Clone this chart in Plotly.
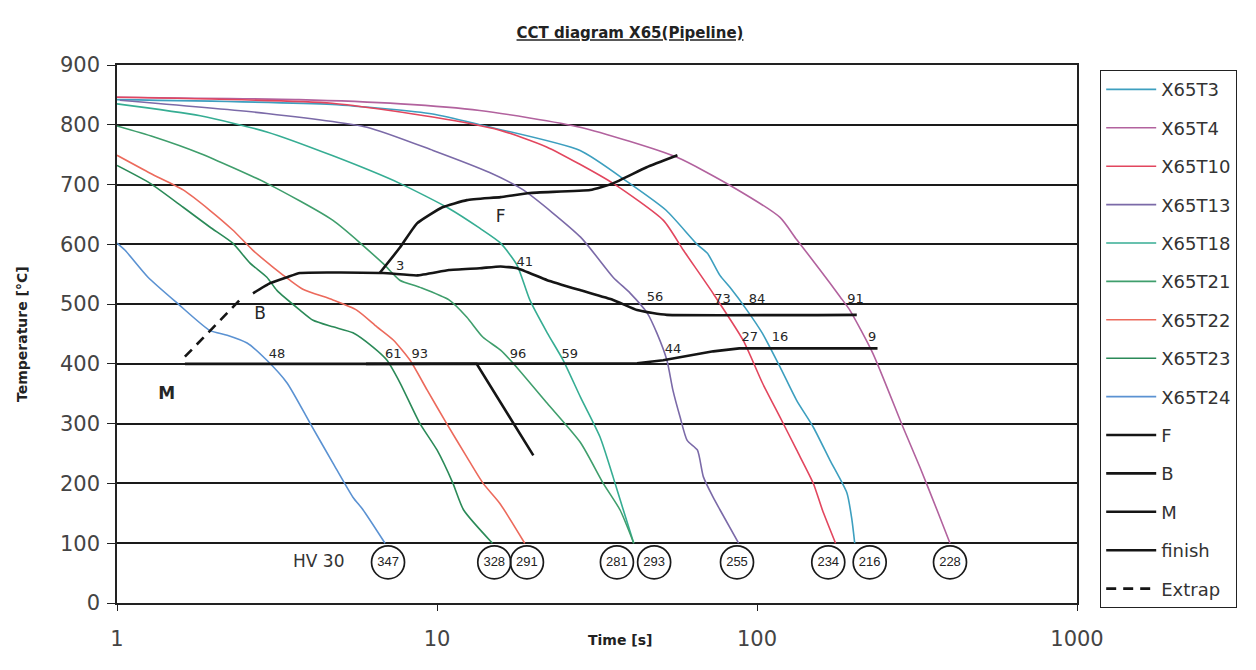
import plotly.graph_objects as go

# ---- cooling curves: time [s] and temperature [°C] ----
t_x65t3 = [1.0, 4.7, 9.7, 13.6, 28, 40, 52, 65, 70, 76.6, 82.3, 93, 104, 118, 133, 150, 169, 191, 198, 202]
T_x65t3 = [842, 834, 818, 800, 757, 702, 657, 600, 585, 548, 528, 490, 451, 395, 339, 294, 239, 184, 139, 100]

t_x65t4 = [1.0, 3.7, 7.7, 13.6, 28, 56, 84, 118, 133, 157, 182, 195, 230, 286, 323, 365, 401]
T_x65t4 = [846, 842, 835, 824, 796, 746, 696, 645, 608, 558, 512, 490, 418, 294, 227, 156, 100]

t_x65t10 = [1.0, 4.7, 9.7, 15.7, 22, 35.5, 51, 58.9, 72.9, 90.4, 104, 118, 133, 150, 160, 176]
T_x65t10 = [846, 836, 813, 791, 763, 702, 640, 590, 518, 440, 368, 311, 256, 200, 156, 100]

t_x65t13 = [1.02, 2.94, 6.04, 9.72, 14.6, 18.6, 28.1, 35.5, 40.2, 45.4, 48.7, 52.3, 54.6, 57.5, 60.5, 65.1, 68.0, 72.9, 76.6, 87.6]
T_x65t13 = [841, 819, 796, 757, 720, 691, 612, 545, 518, 485, 451, 406, 356, 311, 272, 256, 211, 177, 156, 100]

t_x65t18 = [1.0, 1.82, 2.94, 4.73, 7.65, 10.9, 13.6, 15.8, 17.8, 19.5, 22.1, 24.8, 28.1, 32.3, 35.5, 38.2, 41.2]
T_x65t18 = [835, 815, 788, 748, 702, 660, 627, 602, 565, 507, 452, 406, 344, 278, 211, 156, 100]

t_x65t21 = [1.0, 1.3, 1.82, 2.94, 4.73, 6.78, 7.65, 8.85, 10.9, 12.4, 13.9, 15.8, 17.3, 22.1, 28.1, 33.0, 37.3, 41.2]
T_x65t21 = [798, 780, 752, 702, 640, 568, 540, 528, 507, 478, 445, 423, 401, 334, 268, 201, 156, 100]

t_x65t22 = [1.0, 1.27, 1.61, 1.95, 2.30, 2.66, 3.07, 3.47, 3.81, 4.73, 5.61, 6.49, 7.3, 8.24, 9.32, 10.7, 12.4, 13.9, 15.7, 18.8]
T_x65t22 = [749, 719, 691, 657, 624, 590, 562, 540, 525, 507, 490, 462, 440, 406, 356, 301, 244, 201, 167, 100]

t_x65t23 = [1.0, 1.27, 1.61, 1.95, 2.30, 2.60, 2.94, 3.16, 3.73, 4.10, 4.73, 5.46, 6.31, 6.98, 7.67, 8.83, 10.0, 11.2, 12.1, 14.9]
T_x65t23 = [732, 702, 662, 629, 602, 569, 545, 523, 490, 473, 462, 452, 428, 406, 368, 301, 256, 201, 156, 100]

t_x65t24 = [1.0, 1.06, 1.25, 1.54, 1.95, 2.21, 2.55, 2.94, 3.40, 4.01, 4.73, 5.46, 5.87, 6.88]
T_x65t24 = [602, 590, 545, 502, 456, 448, 435, 406, 368, 301, 234, 177, 156, 100]

# ---- transformation lines ----
t_F = [6.62, 7.67, 8.66, 10.4, 12.4, 15.8, 19.5, 30.1, 35.5, 45.2, 56.4]
T_F = [552, 595, 635, 662, 674, 679, 686, 691, 702, 729, 749]

t_B = [2.66, 3.01, 3.40, 3.73, 6.78, 8.66, 10.9, 13.6, 15.8, 17.8, 22.1, 28.1, 35.5, 42.2, 47.2, 52.3, 205]
T_B = [518, 535, 545, 552, 552, 548, 557, 560, 563, 560, 540, 523, 507, 490, 485, 482, 482]

t_M = [1.63, 13.3, 20.0]
T_M = [400, 400, 247]

t_finish = [6.0, 42.2, 50.9, 60.5, 73, 88, 238]
T_finish = [400, 401, 406, 413, 421, 426, 426]

t_extrap = [1.63, 2.42]
T_extrap = [412, 507]

# ---- phase fraction labels ----
pct_text = ["3", "41", "48", "61", "93", "96", "59", "56", "73", "84", "91", "44", "27", "16", "9"]
pct_t = [7.67, 18.8, 3.16, 7.3, 8.83, 17.9, 26, 48, 78, 100, 203, 54.6, 95, 118, 229]
pct_T = [563, 570, 415, 415, 415, 415, 415, 510, 507, 507, 507, 423, 443, 443, 443]

# ---- region labels ----
region_text = ["F", "B", "<b>M</b>"]
region_t = [15.8, 2.8, 1.43]
region_T = [645, 482, 348]

# ---- hardness HV30 ----
hv_values = [347, 328, 291, 281, 293, 255, 234, 216, 228]
hv_t = [7.03, 15.1, 19.1, 36.5, 47.7, 86.6, 167, 225, 401]
hv_T = [68] * len(hv_values)
hv_caption_t, hv_caption_T = 4.27, 68

# ---- axes ----
y_ticks = [0, 100, 200, 300, 400, 500, 600, 700, 800, 900]
x_ticks = [1, 10, 100, 1000]

FONT = "Liberation Sans, Arial, sans-serif"
WIDE = "DejaVu Sans, Liberation Sans, sans-serif"

curves = [
    ("X65T3", t_x65t3, T_x65t3, "#3d9fbf"),
    ("X65T4", t_x65t4, T_x65t4, "#b2629e"),
    ("X65T10", t_x65t10, T_x65t10, "#e2465e"),
    ("X65T13", t_x65t13, T_x65t13, "#7b6aa8"),
    ("X65T18", t_x65t18, T_x65t18, "#36ad93"),
    ("X65T21", t_x65t21, T_x65t21, "#3f9e6c"),
    ("X65T22", t_x65t22, T_x65t22, "#ec6a5c"),
    ("X65T23", t_x65t23, T_x65t23, "#2b8a58"),
    ("X65T24", t_x65t24, T_x65t24, "#5b92d2"),
]

# name, time, temperature, dash, spline?
phase_lines = [
    ("F", t_F, T_F, "solid", True),
    ("B", t_B, T_B, "solid", True),
    ("M", t_M, T_M, "solid", False),
    ("finish", t_finish, T_finish, "solid", False),
    ("Extrap", t_extrap, T_extrap, "10px,7px", False),
]

fig = go.Figure()

for name, t, T, color in curves:
    fig.add_trace(go.Scatter(
        x=t, y=T, name=name, mode="lines", legendgroup=name,
        line=dict(color=color, width=1.6, shape="spline", smoothing=0.6),
    ))

for name, t, T, dash, smooth in phase_lines:
    line = dict(color="#151515", width=2.6, dash=dash)
    if smooth:
        line.update(shape="spline", smoothing=0.4)
    fig.add_trace(go.Scatter(
        x=t, y=T, name=name, mode="lines", legendgroup=name, line=line,
    ))

fig.add_trace(go.Scatter(
    x=pct_t, y=pct_T, mode="text", text=pct_text, showlegend=False,
    textfont=dict(family=WIDE, size=13, color="#262626"), hoverinfo="skip",
))

fig.add_trace(go.Scatter(
    x=region_t, y=region_T, mode="text", text=region_text, showlegend=False,
    textfont=dict(family=WIDE, size=17, color="#262626"), hoverinfo="skip",
))

fig.add_trace(go.Scatter(
    x=hv_t, y=hv_T, mode="markers+text", text=[str(v) for v in hv_values],
    showlegend=False, textposition="middle center",
    marker=dict(symbol="circle-open", size=33, color="#1a1a1a", line=dict(width=1.7)),
    textfont=dict(family=FONT, size=13, color="#222"), hoverinfo="skip",
))

fig.add_trace(go.Scatter(
    x=[hv_caption_t], y=[hv_caption_T], mode="text", text=["HV 30"], showlegend=False,
    textfont=dict(family=WIDE, size=17, color="#333"), hoverinfo="skip",
))

fig.update_layout(
    width=1256, height=670,
    margin=dict(l=117, r=179, t=65, b=67),
    paper_bgcolor="white", plot_bgcolor="white",
    font=dict(family=WIDE, color="#333"),
    title=dict(
        text="CCT diagram X65(Pipeline)",
        x=630 / 1256, xanchor="center", xref="container",
        y=1 - 33 / 670, yanchor="middle",
        font=dict(family=WIDE, size=15, color="#222", weight="bold", lineposition="under"),
    ),
    legend=dict(
        x=(1100 - 117) / 960, y=(603 - 70) / 538, xanchor="left", yanchor="top",
        bordercolor="#222", borderwidth=1.2, bgcolor="white",
        font=dict(family=WIDE, size=18, color="#333"),
        tracegroupgap=12, itemwidth=50,
    ),
    xaxis=dict(
        type="log", range=[0, 3], tickvals=x_ticks, ticktext=[str(v) for v in x_ticks],
        showgrid=False, showline=True, linecolor="#222", linewidth=1.5, mirror=True,
        ticks="outside", ticklen=6, tickcolor="#222", ticklabelstandoff=10,
        tickfont=dict(family=WIDE, size=21, color="#444"), zeroline=False,
    ),
    yaxis=dict(
        range=[0, 900], tickvals=y_ticks, showgrid=True, gridcolor="#1a1a1a", gridwidth=1.5,
        showline=True, linecolor="#222", linewidth=1.5, mirror=True,
        ticks="outside", ticklen=8, tickcolor="#222", ticklabelstandoff=3,
        tickfont=dict(family=WIDE, size=21, color="#444"), zeroline=False,
    ),
    annotations=[
        dict(text="<b>Time [s]</b>", x=(620 - 117) / 960, y=(603 - 650) / 538,
             xref="paper", yref="paper", showarrow=False,
             font=dict(family=WIDE, size=14, color="#222")),
        dict(text="<b>Temperature [°C]</b>", x=(22 - 117) / 960, y=0.5,
             xref="paper", yref="paper", showarrow=False, textangle=-90,
             xanchor="center", yanchor="middle",
             font=dict(family=WIDE, size=14, color="#222")),
    ],
)

fig.write_html("out.html")
